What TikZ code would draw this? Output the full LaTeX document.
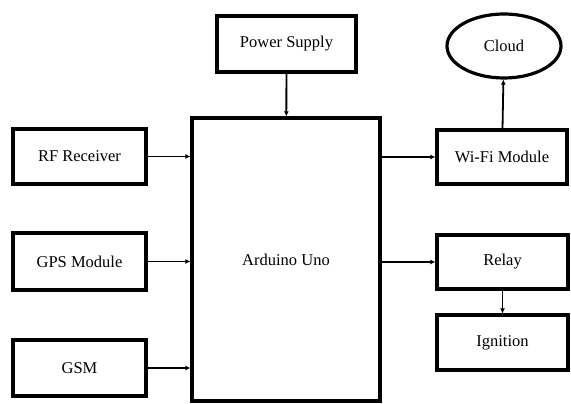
\documentclass[tikz,border=0pt]{standalone}
\usepackage{fontspec}
\setmainfont{Liberation Serif}
\usepackage{xcolor}
\usetikzlibrary{arrows.meta, shapes.geometric}

\tikzset{
  blk/.style = {draw, line width = 3.2pt, rectangle, inner sep = 0pt,
                font = \fontsize{16.5}{19}\selectfont},
  cloudblk/.style = {draw, line width = 3.2pt, ellipse, inner sep = 0pt,
                font = \fontsize{16.5}{19}\selectfont},
  link/.style = {line width = 1.8pt, -{Latex[length = 5pt, width = 5pt]}}
}

\begin{document}
\begin{tikzpicture}[x = 1pt, y = 1pt]
            \useasboundingbox (0,0) rectangle (571,404);
            % blocks
            \node[blk, minimum width = 139pt, minimum height = 56pt] (pwr) at (286.5,360) {Power Supply};
            \node[blk, minimum width = 188pt, minimum height = 283pt] (ard) at (286,144.5) {Arduino Uno};
            \node[blk, minimum width = 133pt, minimum height = 55pt] (rf) at (79.5,247.5) {RF Receiver};
            \node[blk, minimum width = 133pt, minimum height = 57pt] (gps) at (79.5,142.5) {GPS Module};
            \node[blk, minimum width = 133pt, minimum height = 56pt] (gsm) at (79.5,36) {GSM};
            \node[blk, minimum width = 130pt, minimum height = 54pt] (wifi) at (502,247) {Wi-Fi Module};
            \node[cloudblk, minimum width = 114pt, minimum height = 64pt] (cloud) at (504,358) {Cloud};
            \node[blk, minimum width = 131pt, minimum height = 54pt] (relay) at (502.5,142) {Relay};
            \node[blk, minimum width = 131pt, minimum height = 55pt] (ign) at (502.5,61.5) {Ignition};
            % links
            \draw[link] (pwr) -- (ard);
            \draw[link] (rf) -- (rf -| ard.west);
            \draw[link] (gps) -- (gps -| ard.west);
            \draw[link] (gsm) -- (gsm -| ard.west);
            \draw[link] (wifi -| ard.east) -- (wifi);
            \draw[link] (relay -| ard.east) -- (relay);
            \draw[link] (wifi) -- (cloud);
            \draw[link] (relay) -- (ign);
        \end{tikzpicture}
\end{document}
